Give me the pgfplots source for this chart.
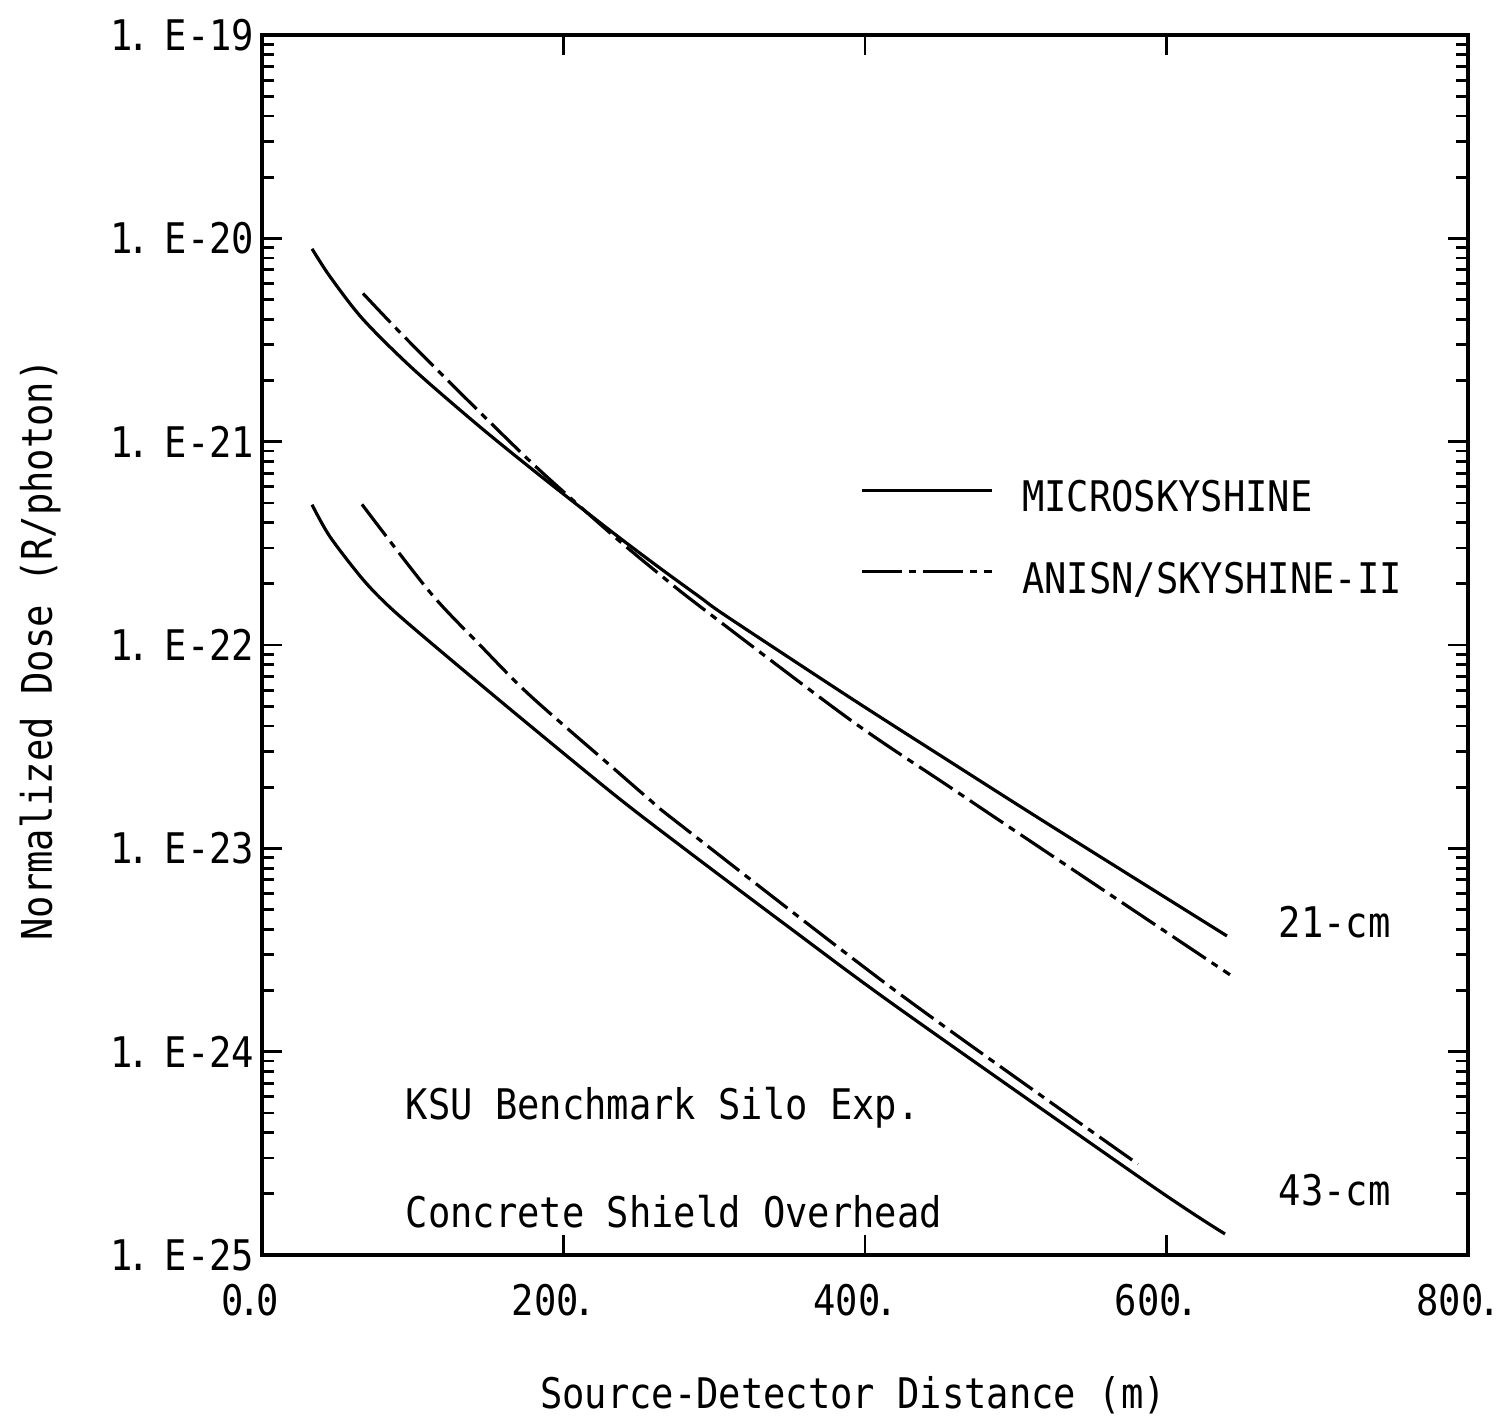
\documentclass[border=0pt]{standalone}
\usepackage{fontspec}
\setmainfont{DejaVu Sans Mono}[FakeStretch=0.88]
\usepackage{pgfplots}
\pgfplotsset{compat=1.18}

\pgfplotstableread{
x y
33.2 8.89e-21
45.1 6.49e-21
67.0 4.00e-21
100.2 2.28e-21
144.6 1.183e-21
184.4 6.82e-22
232.8 3.57e-22
264.0 2.39e-22
290.5 1.72e-22
308.5 1.38e-22
390.0 5.52e-23
456.4 2.67e-23
522.7 1.30e-23
640.1 3.71e-24
}\microA

\pgfplotstableread{
x y
67.0 5.36e-21
89.6 3.57e-21
122.7 2.02e-21
166.5 9.66e-22
189.1 6.71e-22
232.8 3.46e-22
264.0 2.22e-22
290.5 1.55e-22
390.0 4.30e-23
456.4 2.00e-23
522.7 9.35e-24
642.1 2.39e-24
}\anisnA

\pgfplotstableread{
x y
33.2 4.90e-22
45.1 3.41e-22
67.0 2.10e-22
85.0 1.53e-22
111.4 1.035e-22
166.5 4.71e-23
232.8 1.86e-23
277.3 1.035e-23
350.0 4.07e-24
423.2 1.62e-24
589.1 2.22e-25
638.8 1.27e-25
}\microB

\pgfplotstableread{
x y
66.3 4.92e-22
111.4 1.82e-22
144.6 1.00e-22
177.8 5.65e-23
232.8 2.49e-23
257.4 1.73e-23
277.3 1.31e-23
423.2 1.92e-24
581.1 2.80e-25
}\anisnB

\newcommand{\pt}{\makebox[1.2mm][c]{.}}
\newcommand{\tl}[1]{1\pt\hspace{2mm}E-#1}

\begin{document}
\begin{tikzpicture}
\useasboundingbox (-26.2mm,-16.5mm) rectangle (124.1mm,125.5mm);
\begin{axis}[
  at={(0,0)}, anchor=south west,
  scale only axis, width=120.6mm, height=122mm,
  xmin=0, xmax=800, ymode=log, ymin=1e-25, ymax=1e-19,
  font=\fontsize{12}{14}\selectfont,
  xtick={0,200,400,600,800},
  xticklabels={0\pt0,200\pt,400\pt,600\pt,800\pt},
  ytick={1e-25,1e-24,1e-23,1e-22,1e-21,1e-20,1e-19},
  yticklabels={\tl{25},\tl{24},\tl{23},\tl{22},\tl{21},\tl{20},\tl{19}},
  minor ytick={2e-25,3e-25,4e-25,5e-25,6e-25,7e-25,8e-25,9e-25,
               2e-24,3e-24,4e-24,5e-24,6e-24,7e-24,8e-24,9e-24,
               2e-23,3e-23,4e-23,5e-23,6e-23,7e-23,8e-23,9e-23,
               2e-22,3e-22,4e-22,5e-22,6e-22,7e-22,8e-22,9e-22,
               2e-21,3e-21,4e-21,5e-21,6e-21,7e-21,8e-21,9e-21,
               2e-20,3e-20,4e-20,5e-20,6e-20,7e-20,8e-20,9e-20},
  tick align=inside, major tick length=2mm, minor tick length=1.2mm,
  axis line style={line width=1.1pt},
  every tick/.style={line width=0.8pt, black},
  xticklabel style={inner sep=0pt, yshift=-2.8mm, xshift=-1.2mm},
  yticklabel style={inner sep=0pt, xshift=-0.7mm},
  xlabel={Source-Detector Distance (m)},
  xlabel style={at={(axis description cs:0.49,-0.1148)}, anchor=center, inner sep=0pt},
  ylabel={Normalized Dose (R/photon)},
  ylabel style={at={(axis description cs:-0.184,0.496)}, anchor=center, inner sep=0pt},
  legend style={at={(rel axis cs:0.496,0.635)}, anchor=north west, draw=none, fill=none,
    inner sep=0pt, row sep=5.1mm,
    nodes={inner sep=0pt, text height=3.05mm, text depth=0pt},
    /tikz/every odd column/.append style={column sep=2.8mm}},
  legend cell align=left,
  legend image code/.code={\draw[#1] (0mm,0.6mm) -- (13mm,0.6mm);},
]
\addplot[black, line width=0.9pt, smooth] table[x=x,y=y] {\microA};
\addlegendentry{MICROSKYSHINE}
\addplot[black, line width=0.9pt, smooth, dash pattern=on 4mm off 0.7mm on 0.7mm off 0.7mm] table[x=x,y=y] {\anisnA};
\addlegendentry{ANISN/SKYSHINE-II}
\addplot[black, line width=0.9pt, smooth, forget plot] table[x=x,y=y] {\microB};
\addplot[black, line width=0.9pt, smooth, dash pattern=on 4mm off 0.7mm on 0.7mm off 0.7mm, forget plot] table[x=x,y=y] {\anisnB};
\node[anchor=base west, inner sep=0pt] at (rel axis cs:0.8425,0.260) {21-cm};
\node[anchor=base west, inner sep=0pt] at (rel axis cs:0.8425,0.041) {43-cm};
\node[anchor=base west, inner sep=0pt] at (rel axis cs:0.1186,0.111) {KSU Benchmark Silo Exp.};
\node[anchor=base west, inner sep=0pt] at (rel axis cs:0.1186,0.023) {Concrete Shield Overhead};
\end{axis}
\end{tikzpicture}
\end{document}
